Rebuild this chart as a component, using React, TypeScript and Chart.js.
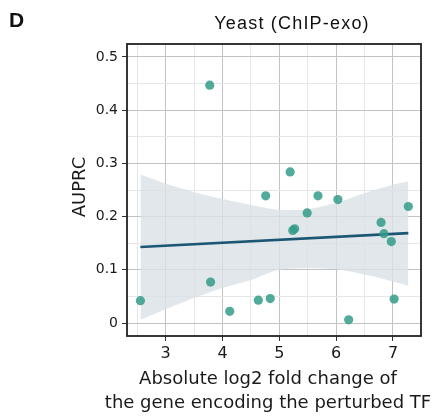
import React, { useEffect, useRef } from "react";
import { Chart, registerables } from "chart.js";

Chart.register(...registerables);

// Scatter data: absolute log2 fold change vs AUPRC
const foldChange = [2.555, 3.775, 3.79, 4.127, 4.63, 4.76, 4.84, 5.19, 5.236, 5.27, 5.49, 5.68, 6.03, 6.22, 6.79, 6.84, 6.97, 7.02, 7.27];
const auprc = [0.042, 0.447, 0.077, 0.022, 0.043, 0.239, 0.046, 0.284, 0.174, 0.177, 0.207, 0.239, 0.232, 0.006, 0.189, 0.168, 0.153, 0.045, 0.219];

// Regression fit line
const fitX = [2.555, 7.27];
const fitY = [0.143, 0.169];

// Confidence band
const bandX = [2.555, 3, 3.5, 4, 4.5, 5, 5.5, 6, 6.5, 7, 7.27];
const bandUpper = [0.279, 0.262, 0.246, 0.233, 0.222, 0.213, 0.214, 0.226, 0.244, 0.26, 0.266];
const bandLower = [0.006, 0.026, 0.047, 0.066, 0.081, 0.1, 0.103, 0.101, 0.091, 0.078, 0.07];

const panelLetter = "D";
const titleText = "Yeast (ChIP-exo)";
const yTitle = "AUPRC";
const xTitleLines = ["Absolute log2 fold change of", "the gene encoding the perturbed TF"];

const xMin = 2.319;
const xMax = 7.493;
const yMin = -0.0244;
const yMax = 0.5244;

const zip = (xs: number[], ys: number[]) => xs.map((x, i) => ({ x, y: ys[i] }));

const isMajorX = (v: number) => Math.abs(v - Math.round(v)) < 1e-6;
const isMajorY = (v: number) => Math.abs(v * 10 - Math.round(v * 10)) < 1e-6;

const textPlugin = {
  id: "texts",
  afterDraw(chart: any) {
    const ctx = chart.ctx;
    const { left, top, right, bottom } = chart.chartArea;
    ctx.save();
    // frame
    ctx.strokeStyle = "#222";
    ctx.lineWidth = 1.8;
    ctx.strokeRect(left, top, right - left, bottom - top);
    ctx.fillStyle = "#111";
    // panel letter
    ctx.font = "bold 21px 'Liberation Sans', Arial, sans-serif";
    ctx.textAlign = "left";
    ctx.textBaseline = "alphabetic";
    ctx.fillText(panelLetter, 9, 27);
    // title
    ctx.font = "18px 'Liberation Sans', Arial, sans-serif";
    try { (ctx as any).letterSpacing = "1.2px"; } catch (e) {}
    ctx.textAlign = "center";
    ctx.fillText(titleText, 292, 29);
    try { (ctx as any).letterSpacing = "0px"; } catch (e) {}
    // x title
    ctx.fillStyle = "#1a1a1a";
    ctx.font = "18px 'DejaVu Sans', sans-serif";
    ctx.fillText(xTitleLines[0], 268, 383.5);
    ctx.fillText(xTitleLines[1], 268, 407.5);
    // y title
    ctx.translate(85, 187);
    ctx.rotate(-Math.PI / 2);
    ctx.fillText(yTitle, 0, 0);
    ctx.restore();
  },
};

export default function App() {
  const ref = useRef<HTMLCanvasElement>(null);
  useEffect(() => {
    document.body.style.margin = "0";
    const chart = new Chart(ref.current as HTMLCanvasElement, {
      type: "scatter",
      data: {
        datasets: [
          {
            label: "points",
            data: zip(foldChange, auprc),
            backgroundColor: "rgba(52,155,137,0.85)",
            borderWidth: 0,
            pointRadius: 4.6,
          } as any,
          {
            label: "fit",
            data: zip(fitX, fitY),
            showLine: true,
            borderColor: "#1b5675",
            borderWidth: 2.6,
            pointRadius: 0,
          },
          {
            label: "upper",
            data: zip(bandX, bandUpper),
            showLine: true,
            borderWidth: 0,
            borderColor: "rgba(0,0,0,0)",
            pointRadius: 0,
            tension: 0.3,
            fill: "+1",
            backgroundColor: "rgba(218,225,229,0.8)",
          },
          {
            label: "lower",
            data: zip(bandX, bandLower),
            showLine: true,
            borderWidth: 0,
            borderColor: "rgba(0,0,0,0)",
            pointRadius: 0,
            tension: 0.3,
          },
        ],
      },
      options: {
        animation: false,
        responsive: false,
        devicePixelRatio: 1,
        layout: { padding: { top: 44, right: 27, left: 0, bottom: 0 } },
        plugins: { legend: { display: false }, tooltip: { enabled: false } },
        scales: {
          x: {
            type: "linear",
            min: xMin,
            max: xMax,
            afterFit: (s: any) => { s.height = 82; },
            border: { display: false },
            grid: {
              color: (c: any) => (c.tick && isMajorX(c.tick.value) ? "#c2c2c2" : "#e6e6e6"),
              tickColor: (c: any) => (c.tick && isMajorX(c.tick.value) ? "#333" : "rgba(0,0,0,0)"),
              tickLength: 5,
              lineWidth: 1,
            },
            ticks: {
              stepSize: 0.5,
              includeBounds: false,
              autoSkip: false,
              maxRotation: 0,
              padding: 3,
              color: "#1a1a1a",
              font: { family: "'DejaVu Sans'", size: 16 },
              callback: (v: any) => (isMajorX(Number(v)) ? String(Math.round(Number(v))) : ""),
            },
          },
          y: {
            type: "linear",
            min: yMin,
            max: yMax,
            afterFit: (s: any) => { s.width = 127; },
            border: { display: false },
            grid: {
              color: (c: any) => (c.tick && isMajorY(c.tick.value) ? "#c2c2c2" : "#e6e6e6"),
              tickColor: (c: any) => (c.tick && isMajorY(c.tick.value) ? "#333" : "rgba(0,0,0,0)"),
              tickLength: 5,
              lineWidth: 1,
            },
            ticks: {
              stepSize: 0.05,
              includeBounds: false,
              autoSkip: false,
              padding: 4,
              color: "#1a1a1a",
              font: { family: "'DejaVu Sans'", size: 14 },
              callback: (v: any) => {
                const n = Number(v);
                if (!isMajorY(n)) return "";
                const r = Math.round(n * 10) / 10;
                return r === 0 ? "0" : r.toFixed(1);
              },
            },
          },
        },
      },
      plugins: [textPlugin],
    });
    return () => chart.destroy();
  }, []);
  return (
    <div style={{ width: 448, height: 418 }}>
      <canvas ref={ref} width={448} height={418} style={{ display: "block" }} />
    </div>
  );
}
